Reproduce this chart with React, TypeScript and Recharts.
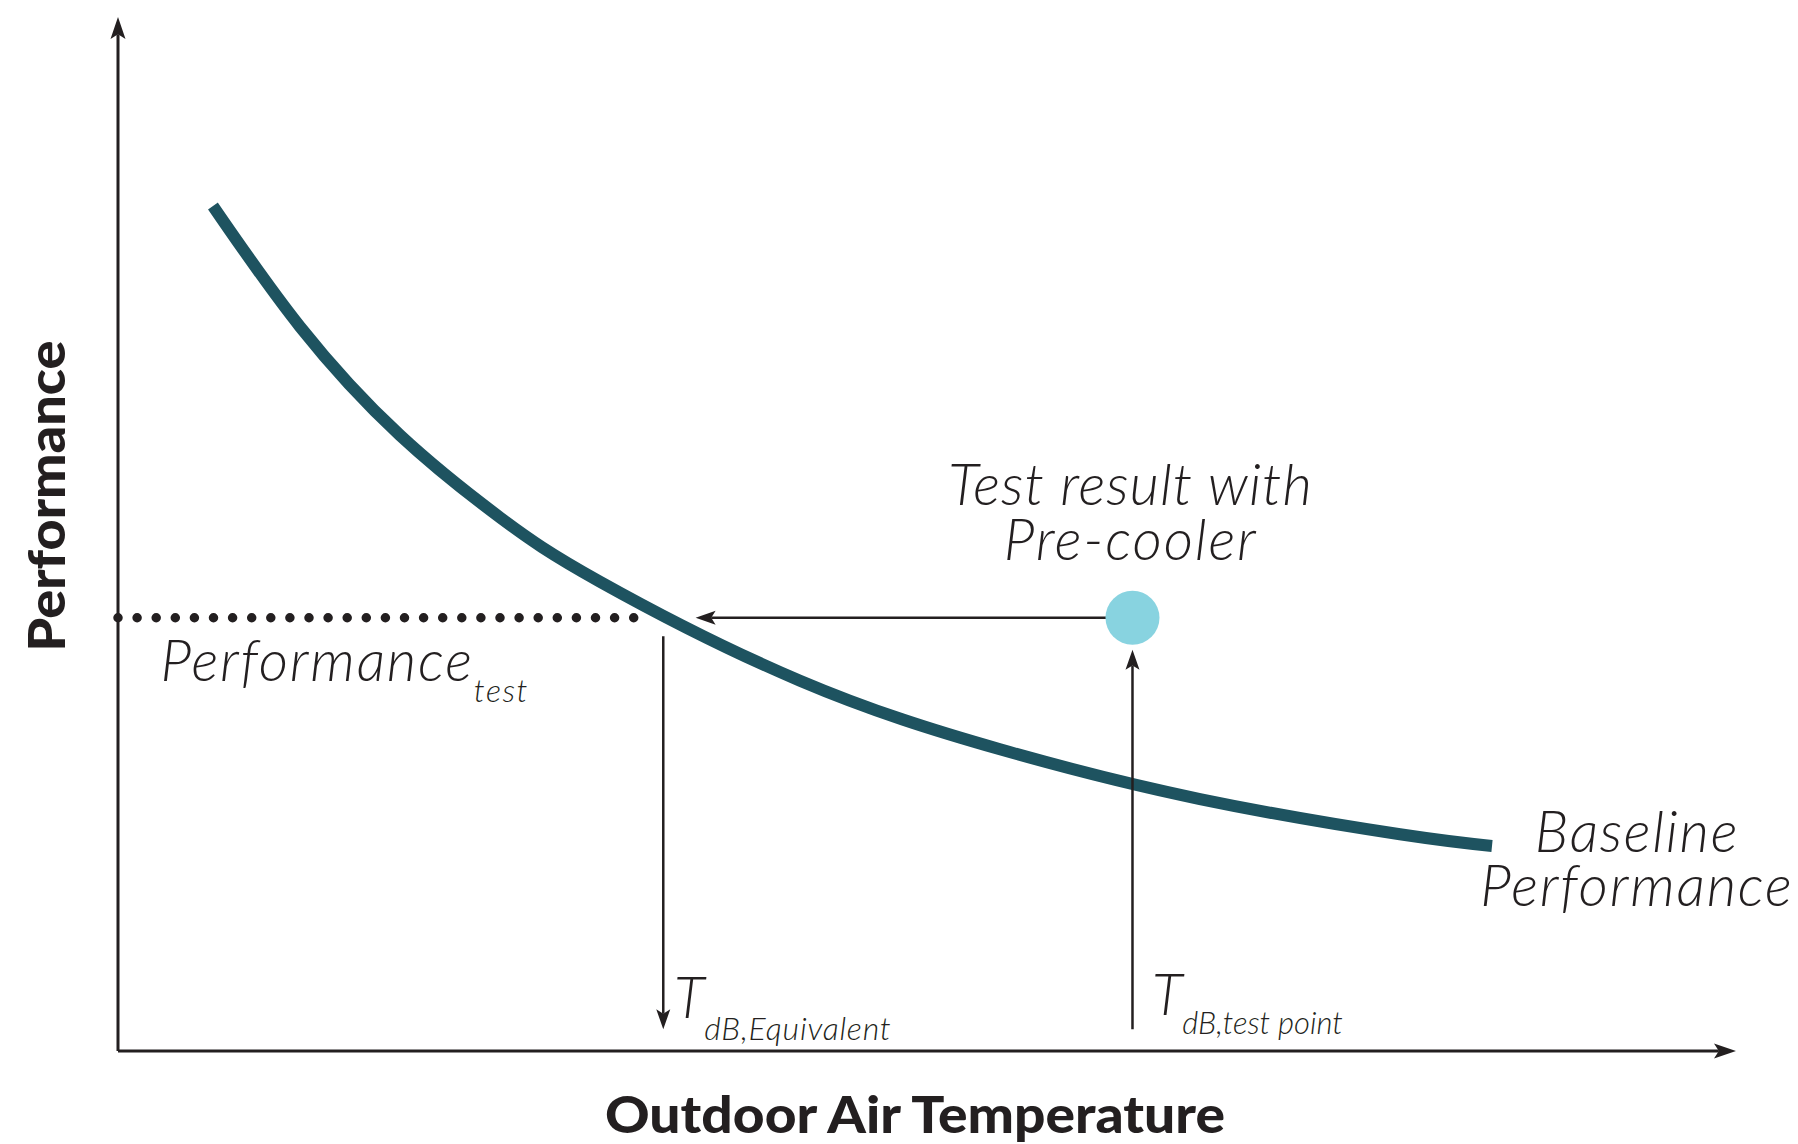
import React from 'react';
import { ComposedChart, Line, Scatter, XAxis, YAxis, ReferenceLine, ReferenceDot } from 'recharts';

// ---- data (arbitrary units, 0..100 on both axes) ----
const temperature = [5.87, 11.25, 17.43, 23.61, 29.79, 42.15, 54.51, 66.87, 79.23, 84.92];
const baselinePerformance = [81.72, 70.05, 59.55, 51.6, 45.39, 35.81, 29.18, 24.37, 20.96, 19.83];
const testTemp = [62.7];
const testPerf = [41.9];
const equivalentTemp = 33.7;
const axisMin = 0;
const axisMax = 100;

const baselineData = temperature.map((t, i) => ({ temp: t, perf: baselinePerformance[i] }));
const testData = testTemp.map((t, i) => ({ temp: t, perf: testPerf[i] }));

const INK = '#231F20';
const TEAL = '#1E5360';
const CYAN = '#88D3E0';
const LIGHT = { fontFamily: 'Lato', fontStyle: 'italic', fontWeight: 300 } as const;
const BOLD = { fontFamily: 'Lato', fontWeight: 900 } as const;

const W = 1798;
const H = 1144;

function arrow(headLen: number, headW: number, strokeW: number) {
  return (p: any) => {
    const { x1, y1, x2, y2 } = p;
    const ang = Math.atan2(y2 - y1, x2 - x1);
    const ux = Math.cos(ang);
    const uy = Math.sin(ang);
    const px = -uy;
    const py = ux;
    const bx = x2 - ux * headLen;
    const by = y2 - uy * headLen;
    const nx = x2 - ux * headLen * 0.78;
    const ny = y2 - uy * headLen * 0.78;
    const pts = [
      [x2, y2],
      [bx + (px * headW) / 2, by + (py * headW) / 2],
      [nx, ny],
      [bx - (px * headW) / 2, by - (py * headW) / 2],
    ]
      .map((q) => q.join(','))
      .join(' ');
    return (
      <g>
        <line x1={x1} y1={y1} x2={nx} y2={ny} stroke={INK} strokeWidth={strokeW} />
        <polygon points={pts} fill={INK} />
      </g>
    );
  };
}

const dotted = (p: any) => (
  <line
    x1={p.x1}
    y1={p.y1}
    x2={p.x2}
    y2={p.y2}
    stroke={INK}
    strokeWidth={9.5}
    strokeLinecap="round"
    strokeDasharray="0 19.1"
  />
);

type Ann = { x: number; y: number; render: (cx: number, cy: number) => React.ReactNode };

const annotations: Ann[] = [
  {
    x: 62.58,
    y: 52.85,
    render: (cx, cy) => (
      <text x={cx} y={cy} textAnchor="middle" fontSize={57} fill={INK} style={LIGHT}>
        <tspan x={cx} letterSpacing={1}>
          Test result with
        </tspan>
        <tspan x={cx} dy={55} letterSpacing={1.8}>
          Pre-cooler
        </tspan>
      </text>
    ),
  },
  {
    x: 2.63,
    y: 35.78,
    render: (cx, cy) => (
      <text x={cx} y={cy} fontSize={57} letterSpacing={1.8} fill={INK} style={LIGHT}>
        Performance
        <tspan fontSize={32} letterSpacing={1.5} dy={21}>
          test
        </tspan>
      </text>
    ),
  },
  {
    x: 93.88,
    y: 19.25,
    render: (cx, cy) => (
      <text x={cx} y={cy} textAnchor="middle" fontSize={57} fill={INK} style={LIGHT}>
        <tspan x={cx} letterSpacing={1.7}>
          Baseline
        </tspan>
        <tspan x={cx} dy={54} letterSpacing={1.8}>
          Performance
        </tspan>
      </text>
    ),
  },
  {
    x: 34.36,
    y: 3.19,
    render: (cx, cy) => (
      <text x={cx} y={cy} fontSize={57} fill={INK} style={LIGHT}>
        T
        <tspan fontSize={32} letterSpacing={0.8} dy={22}>
          dB,Equivalent
        </tspan>
      </text>
    ),
  },
  {
    x: 63.9,
    y: 3.48,
    render: (cx, cy) => (
      <text x={cx} y={cy} fontSize={57} fill={INK} style={LIGHT}>
        T
        <tspan fontSize={31} dy={19}>
          dB,test point
        </tspan>
      </text>
    ),
  },
];

const testDot = (p: any) => <circle cx={p.cx} cy={p.cy} r={27} fill={CYAN} />;

export default function App() {
  return (
    <div style={{ position: 'absolute', left: 0, top: 0, width: W, height: H, background: '#fff' }}>
      <ComposedChart width={W} height={H} margin={{ top: 17, right: 62, bottom: 0, left: 0 }}>
        <XAxis
          type="number"
          dataKey="temp"
          domain={[axisMin, axisMax]}
          axisLine={false}
          tickLine={false}
          tick={false}
          height={93}
          label={{
            content: (props: any) => {
              const vb = props.viewBox;
              return (
                <text
                  x={vb.x + vb.width / 2 - 12}
                  y={vb.y + 82}
                  textAnchor="middle"
                  fontSize={52}
                  fill={INK}
                  style={BOLD}
                  textLength={620}
                  lengthAdjust="spacingAndGlyphs"
                >
                  Outdoor Air Temperature
                </text>
              );
            },
          }}
        />
        <YAxis
          type="number"
          dataKey="perf"
          domain={[axisMin, axisMax]}
          axisLine={false}
          tickLine={false}
          tick={false}
          width={118}
          label={{
            content: (props: any) => {
              const vb = props.viewBox;
              const cx = 65;
              const cy = vb.y + vb.height / 2 - 38;
              return (
                <text
                  x={cx}
                  y={cy}
                  transform={`rotate(-90 ${cx} ${cy})`}
                  textAnchor="middle"
                  fontSize={52}
                  fill={INK}
                  style={BOLD}
                  textLength={311}
                  lengthAdjust="spacingAndGlyphs"
                >
                  Performance
                </text>
              );
            },
          }}
        />
        <Line
          data={baselineData}
          dataKey="perf"
          type="natural"
          stroke={TEAL}
          strokeWidth={12}
          strokeLinecap="butt"
          dot={false}
          activeDot={false}
          isAnimationActive={false}
        />
        {/* axes with arrowheads */}
        <ReferenceLine
          segment={[{ x: axisMin, y: axisMin }, { x: axisMin, y: axisMax }]}
          ifOverflow="visible"
          shape={arrow(22, 15, 3)}
        />
        <ReferenceLine
          segment={[{ x: axisMin, y: axisMin }, { x: axisMax, y: axisMin }]}
          ifOverflow="visible"
          shape={arrow(22, 15, 3)}
        />
        {/* dotted performance_test level */}
        <ReferenceLine
          segment={[{ x: axisMin, y: testPerf[0] }, { x: 32.0, y: testPerf[0] }]}
          ifOverflow="visible"
          shape={dotted}
        />
        {/* arrows */}
        <ReferenceLine
          segment={[{ x: testTemp[0] - 1.5, y: testPerf[0] }, { x: 35.7, y: testPerf[0] }]}
          ifOverflow="visible"
          shape={arrow(20, 14, 2.5)}
        />
        <ReferenceLine
          segment={[{ x: testTemp[0], y: 2.1 }, { x: testTemp[0], y: 38.8 }]}
          ifOverflow="visible"
          shape={arrow(20, 14, 2.5)}
        />
        <ReferenceLine
          segment={[{ x: equivalentTemp, y: 40.1 }, { x: equivalentTemp, y: 2.1 }]}
          ifOverflow="visible"
          shape={arrow(20, 14, 2.5)}
        />
        <Scatter data={testData} dataKey="perf" shape={testDot} isAnimationActive={false} />
        {annotations.map((a, i) => (
          <ReferenceDot
            key={i}
            x={a.x}
            y={a.y}
            r={0}
            ifOverflow="visible"
            shape={(p: any) => <g>{a.render(p.cx, p.cy)}</g>}
          />
        ))}
      </ComposedChart>
    </div>
  );
}
